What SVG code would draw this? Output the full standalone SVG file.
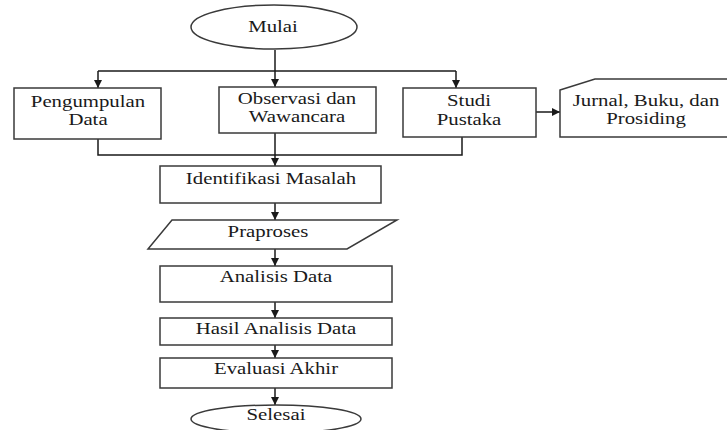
<svg xmlns="http://www.w3.org/2000/svg" width="727" height="430" viewBox="0 0 727 430">
<style>
.shape{fill:#fff;stroke:#3a3a3a;stroke-width:1.5}
.line{fill:none;stroke:#1a1a1a;stroke-width:1.5}
text{font-family:"Liberation Serif","Times New Roman",serif;font-size:16px;fill:#1a1a1a;text-anchor:middle}
</style>
<defs>
<marker id="ah" viewBox="0 0 10 10" refX="10" refY="5" markerWidth="8" markerHeight="8" markerUnits="userSpaceOnUse" orient="auto">
<path d="M0,0 L10,5 L0,10 Z" fill="#1a1a1a"/>
</marker>
</defs>
<rect width="727" height="430" fill="#fff"/>
<g id="connectors">
<path class="line" d="M275,50 V87" marker-end="url(#ah)"/>
<path class="line" d="M98,71 H456"/>
<path class="line" d="M98,71 V88" marker-end="url(#ah)"/>
<path class="line" d="M456,71 V88" marker-end="url(#ah)"/>
<path class="line" d="M536,112 H560" marker-end="url(#ah)"/>
<path class="line" d="M98,139 V155 H462 V137"/>
<path class="line" d="M275,133 V166" marker-end="url(#ah)"/>
<path class="line" d="M275,203 V220" marker-end="url(#ah)"/>
<path class="line" d="M275,249 V266" marker-end="url(#ah)"/>
<path class="line" d="M275,302 V318" marker-end="url(#ah)"/>
<path class="line" d="M275,345 V358" marker-end="url(#ah)"/>
<path class="line" d="M275,388 V405" marker-end="url(#ah)"/>
</g>
<g id="mulai">
<ellipse class="shape" cx="274" cy="27" rx="83" ry="22"/>
<text transform="translate(273,32) scale(1.3,1)">Mulai</text>
</g>
<g id="pengumpulan">
<rect class="shape" x="14" y="88" width="147" height="51"/>
<text transform="translate(88,107) scale(1.3,1)">Pengumpulan</text>
<text transform="translate(88,125) scale(1.3,1)">Data</text>
</g>
<g id="observasi">
<rect class="shape" x="219" y="87" width="157" height="46"/>
<text transform="translate(297,104) scale(1.3,1)">Observasi dan</text>
<text transform="translate(297,122) scale(1.3,1)">Wawancara</text>
</g>
<g id="studi">
<rect class="shape" x="403" y="88" width="133" height="49"/>
<text transform="translate(469,106) scale(1.3,1)">Studi</text>
<text transform="translate(469,125) scale(1.3,1)">Pustaka</text>
</g>
<g id="jurnal">
<path class="shape" d="M560,90 L595,79 H740 V137 H560 Z"/>
<text transform="translate(646,106) scale(1.3,1)">Jurnal, Buku, dan</text>
<text transform="translate(646,124) scale(1.3,1)">Prosiding</text>
</g>
<g id="identifikasi">
<rect class="shape" x="160" y="166" width="221" height="37"/>
<text transform="translate(271,184) scale(1.3,1)">Identifikasi Masalah</text>
</g>
<g id="praproses">
<path class="shape" d="M172,220 H397 L347,249 H148 Z"/>
<text transform="translate(268,237) scale(1.3,1)">Praproses</text>
</g>
<g id="analisis">
<rect class="shape" x="160" y="266" width="232" height="36"/>
<text transform="translate(276,282) scale(1.3,1)">Analisis Data</text>
</g>
<g id="hasil">
<rect class="shape" x="160" y="318" width="232" height="27"/>
<text transform="translate(276,334) scale(1.3,1)">Hasil Analisis Data</text>
</g>
<g id="evaluasi">
<rect class="shape" x="160" y="358" width="232" height="30"/>
<text transform="translate(276,374) scale(1.3,1)">Evaluasi Akhir</text>
</g>
<g id="selesai">
<ellipse class="shape" cx="276" cy="419" rx="85" ry="14"/>
<text transform="translate(276,420) scale(1.3,1)">Selesai</text>
</g>
</svg>
